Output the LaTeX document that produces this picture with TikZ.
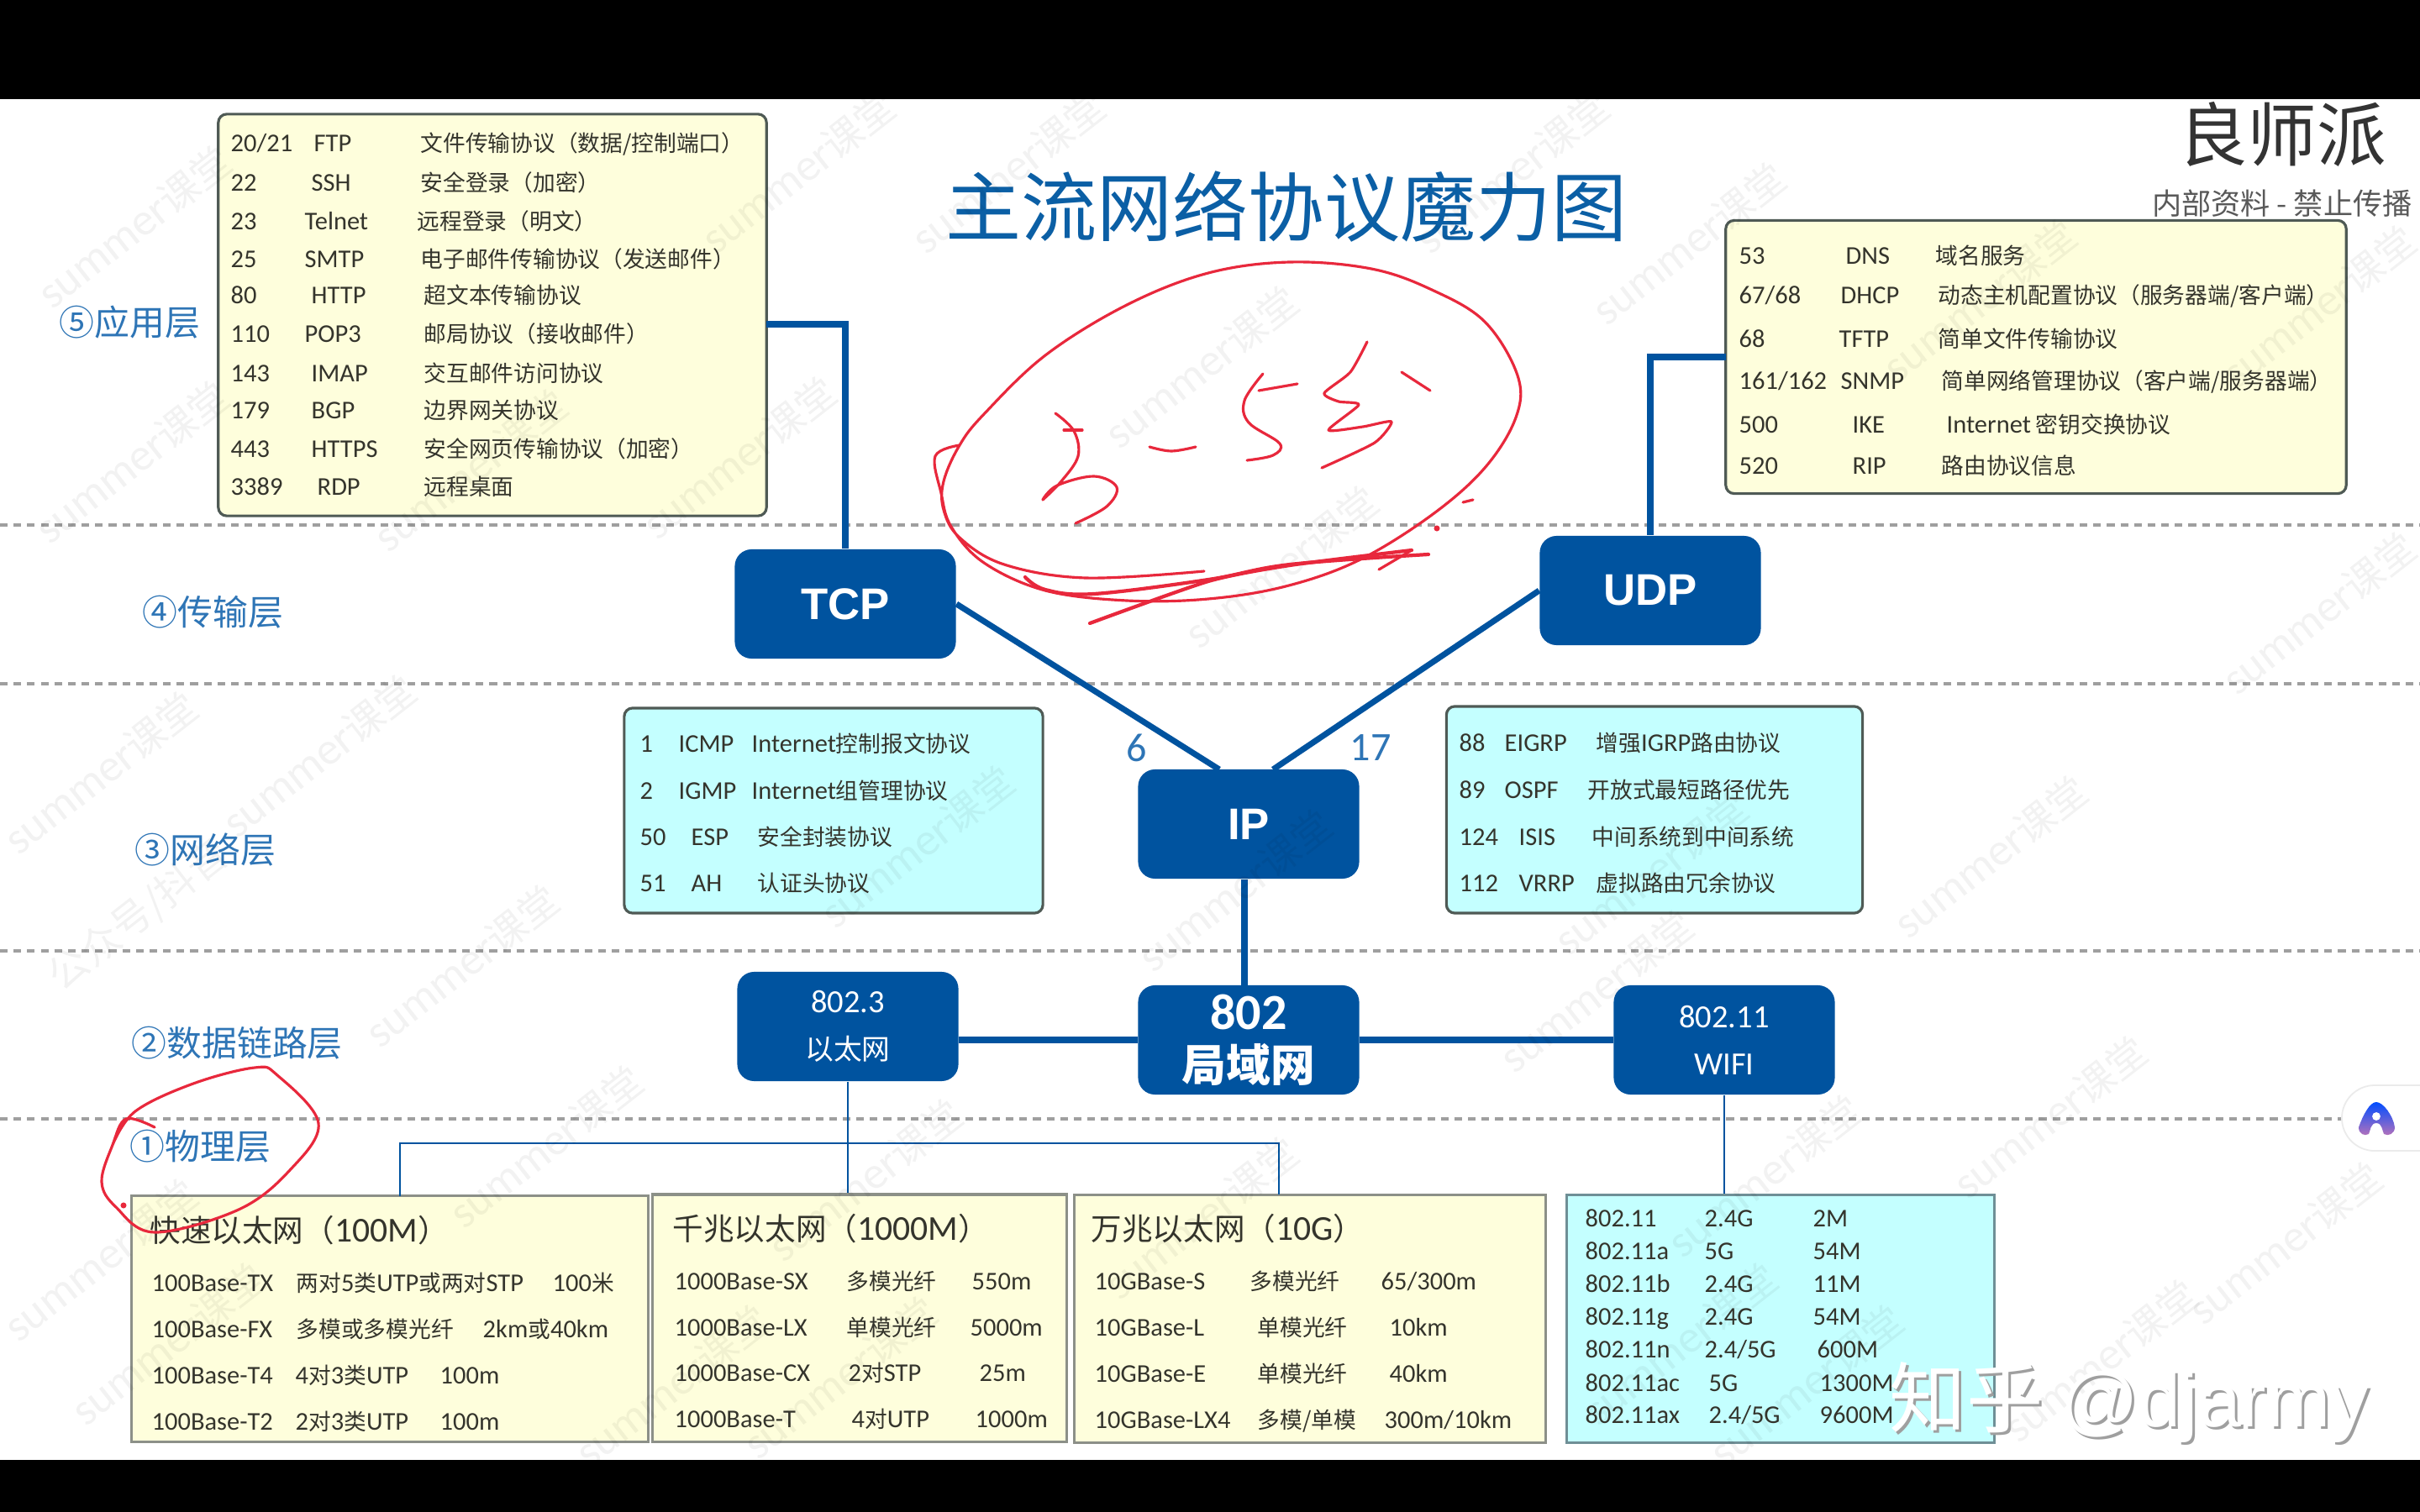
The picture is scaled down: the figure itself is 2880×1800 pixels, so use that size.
\documentclass[tikz,border=0pt]{standalone}
\usepackage{fontspec}
\setmainfont{Noto Sans CJK SC}
\newfontfamily\latin[Scale=1.14]{Carlito}
\newfontfamily\arialish{Liberation Sans}
\usetikzlibrary{arrows.meta}
\definecolor{netblue}{HTML}{00539F}
\definecolor{headblue}{HTML}{0B5FA5}
\definecolor{layerblue}{HTML}{2E75B6}
\definecolor{paleyellow}{HTML}{FEFEDC}
\definecolor{palecyan}{HTML}{C4FFFF}
\definecolor{boxedge}{HTML}{4F5A55}
\definecolor{flatedge}{HTML}{8C9088}
\definecolor{rateedge}{HTML}{6F8F96}
\definecolor{inkred}{HTML}{E8283C}
\definecolor{rowgray}{HTML}{34342C}
\tikzset{
	netbox/.style={fill=netblue, rounded corners=.2cm, minimum width=2.63cm, minimum height=1.3cm, inner sep=0, text=white, align=center},
	listbox/.style={draw=boxedge, line width=.9pt, rounded corners=.1cm, inner sep=0},
	flatbox/.style={draw=flatedge, line width=.9pt, fill=paleyellow, inner sep=0},
	rowtext/.style={anchor=west, inner sep=0, text=rowgray, text height=7pt, text depth=1.5pt, font=\fontsize{7.6}{9}\selectfont},
	headtext/.style={anchor=west, inner sep=0, text=rowgray, font=\fontsize{10.4}{12}\selectfont},
	layertext/.style={anchor=west, inner sep=0, text=layerblue, font=\fontsize{11.9}{14}\selectfont},
	thickwire/.style={netblue, line width=2pt},
	thinwire/.style={netblue, line width=.8pt},
	ink/.style={inkred, line width=.9pt, line cap=round, line join=round},
	mark text/.style={rotate=38, inner sep=0, text=black, opacity=.05, font=\fontsize{13.5}{15}\selectfont}
}
\begin{document}
\begin{tikzpicture}[x=0.01cm, y=-0.01cm]
	\useasboundingbox (0,0) rectangle (2880,1800);
	\fill[white] (0,0) rectangle (2880,1800);
	% layer separators
	\foreach \ly in {625,814,1132,1332} {\draw[gray!75, line width=1pt, dash pattern=on 2.6pt off 2pt] (0,\ly) -- (2880,\ly);}
	% heading
	\node[inner sep=0, text=headblue, font=\fontsize{25.6}{30}\selectfont] (heading) at (1531,246) {主流网络协议魔力图};
	\node[inner sep=0, text=black!80, font=\fontsize{23.5}{27}\selectfont] (brand) at (2716,160) {良师派};
	\node[inner sep=0, text=black!65, font=\fontsize{10}{12}\selectfont] (brandnote) at (2716,242) {内部资料 - 禁止传播};
	% layers
	\node[layertext] (layerfive) at (70,384) {⑤应用层};
	\node[layertext] (layerfour) at (169,729) {④传输层};
	\node[layertext] (layerthree) at (160,1012) {③网络层};
	\node[layertext] (layertwo) at (156,1242) {②数据链路层};
	\node[layertext] (layerone) at (154,1365) {①物理层};
	% list boxes
	\node[listbox, fill=paleyellow, minimum width=6.52cm, minimum height=4.78cm] (appbox) at (586,375) {};
	\node[listbox, fill=paleyellow, minimum width=7.38cm, minimum height=3.25cm] (udpbox) at (2423,425) {};
	\node[listbox, fill=palecyan, minimum width=4.98cm, minimum height=2.44cm] (ipleft) at (992,965) {};
	\node[listbox, fill=palecyan, minimum width=4.95cm, minimum height=2.46cm] (ipright) at (1969,964) {};
	\node[flatbox, minimum width=6.15cm, minimum height=2.93cm] (fast) at (464,1570) {};
	\node[flatbox, minimum width=4.92cm, minimum height=2.94cm] (gig) at (1023,1569) {};
	\node[flatbox, minimum width=5.6cm, minimum height=2.95cm] (ten) at (1559,1570) {};
	\node[flatbox, fill=palecyan, draw=rateedge, minimum width=5.08cm, minimum height=2.95cm] (rates) at (2119,1570) {};
	% protocol boxes
	\node[netbox, font=\arialish\bfseries\fontsize{15}{17}\selectfont] (tcp) at (1006,719) {TCP};
	\node[netbox, font=\arialish\bfseries\fontsize{15}{17}\selectfont] (udp) at (1964,703) {UDP};
	\node[netbox, font=\arialish\bfseries\fontsize{15}{17}\selectfont] (ip) at (1486,981) {IP};
	\node[netbox, font=\bfseries\fontsize{15}{17.5}\selectfont] (lan) at (1486,1238) {\latin 802\\局域网};
	\node[netbox, font=\fontsize{9.6}{16}\selectfont] (eth) at (1009,1222) {\latin 802.3\\以太网};
	\node[netbox, font=\fontsize{9.6}{16}\selectfont] (wifi) at (2052,1238) {\latin 802.11\\\latin WIFI};
	% wires
	\coordinate (appout) at (912,386);
	\coordinate (udpout) at (2054,425);
	\coordinate (ipinl) at (1451,916);
	\coordinate (ipinr) at (1515,916);
	\coordinate (ipout) at (1481,1047);
	\coordinate (lanin) at (1481,1173);
	\coordinate (fastin) at (476,1424);
	\coordinate (tenin) at (1522,1422);
	\coordinate (busin) at (1009,1361);
	\draw[thickwire] (appout) -| (tcp.north);
	\draw[thickwire] (udpout) -| (udp.north);
	\draw[thickwire] (tcp.east) -- (ipinl);
	\draw[thickwire] (udp.west) -- (ipinr);
	\draw[thickwire] (ipout) -- (lanin);
	\draw[thickwire] (lan.west) -- (lan.west -| eth.east);
	\draw[thickwire] (lan.east) -- (wifi.west);
	\draw[thinwire] (eth.south) -- (eth.south |- gig.north);
	\draw[thinwire] (fastin) |- (busin) -| (tenin);
	\draw[thinwire] (wifi.south) -- (wifi.south |- rates.north);
	\node[inner sep=0, text=layerblue, font=\latin\fontsize{12}{15}\selectfont] (six) at (1353,890) {6};
	\node[inner sep=0, text=layerblue, font=\latin\fontsize{12}{15}\selectfont] (seventeen) at (1631,890) {17};
	% application rows
	\foreach \py/\port/\nx/\name/\dx/\desc [count=\i] in {
		171/{20/21}/373/FTP/500/{文件传输协议（数据/控制端口）},
		218/22/370/SSH/500/{安全登录（加密）},
		264/23/362/Telnet/496/{远程登录（明文）},
		309/25/362/SMTP/500/{电子邮件传输协议（发送邮件）},
		352/80/370/HTTP/504/{超文本传输协议},
		398/110/362/POP3/504/{邮局协议（接收邮件）},
		445/143/370/IMAP/504/{交互邮件访问协议},
		489/179/370/BGP/504/{边界网关协议},
		535/443/370/HTTPS/504/{安全网页传输协议（加密）},
		580/3389/377/RDP/504/{远程桌面}} {
		\node[rowtext] (appport\i) at (274,\py) {\latin\port};
		\node[rowtext] (appname\i) at (\nx,\py) {\latin\name};
		\node[rowtext] (appdesc\i) at (\dx,\py) {\desc};
	}
	% udp rows
	\foreach \py/\port/\nx/\name/\dx/\desc [count=\i] in {
		305/53/2196/DNS/2303/{域名服务},
		352/{67/68}/2190/DHCP/2306/{动态主机配置协议（服务器端/客户端）},
		404/68/2188/TFTP/2306/{简单文件传输协议},
		454/{161/162}/2190/SNMP/2310/{简单网络管理协议（客户端/服务器端）},
		506/500/2204/IKE/2316/{{\latin Internet} 密钥交换协议},
		555/520/2204/RIP/2310/{路由协议信息}} {
		\node[rowtext] (udpport\i) at (2069,\py) {\latin\port};
		\node[rowtext] (udpname\i) at (\nx,\py) {\latin\name};
		\node[rowtext] (udpdesc\i) at (\dx,\py) {\desc};
	}
	% network rows
	\foreach \py/\port/\nx/\name/\dx/\desc [count=\i] in {
		886/1/807/ICMP/894/{{\latin Internet}控制报文协议},
		942/2/807/IGMP/894/{{\latin Internet}组管理协议},
		997/50/822/ESP/901/{安全封装协议},
		1052/51/822/AH/901/{认证头协议}} {
		\node[rowtext] (leftport\i) at (761,\py) {\latin\port};
		\node[rowtext] (leftname\i) at (\nx,\py) {\latin\name};
		\node[rowtext] (leftdesc\i) at (\dx,\py) {\desc};
	}
	\foreach \py/\port/\nx/\name/\dx/\desc [count=\i] in {
		885/88/1790/EIGRP/1899/{增强{\latin IGRP}路由协议},
		941/89/1790/OSPF/1889/{开放式最短路径优先},
		997/124/1807/ISIS/1894/{中间系统到中间系统},
		1052/112/1807/VRRP/1899/{虚拟路由冗余协议}} {
		\node[rowtext] (rightport\i) at (1736,\py) {\latin\port};
		\node[rowtext] (rightname\i) at (\nx,\py) {\latin\name};
		\node[rowtext] (rightdesc\i) at (\dx,\py) {\desc};
	}
	% ethernet tables
	\node[headtext] (fasthead) at (178,1465) {快速以太网（{\latin 100M}）};
	\node[headtext] (gighead) at (800,1463) {千兆以太网（{\latin 1000M}）};
	\node[headtext] (tenhead) at (1298,1463) {万兆以太网（{\latin 10G}）};
	\foreach \py/\kind/\mx/\medium/\lx/\reach [count=\i] in {
		1528/100Base-TX/352/{两对{\latin 5}类{\latin UTP}或两对{\latin STP}}/657/{{\latin 100}米},
		1583/100Base-FX/352/{多模或多模光纤}/574/{{\latin 2km}或{\latin 40km}},
		1638/100Base-T4/351/{{\latin 4}对{\latin 3}类{\latin UTP}}/523/{\latin 100m},
		1693/100Base-T2/351/{{\latin 2}对{\latin 3}类{\latin UTP}}/523/{\latin 100m},
		1526/1000Base-SX/1007/{多模光纤}/1156/{\latin 550m},
		1581/1000Base-LX/1007/{单模光纤}/1154/{\latin 5000m},
		1635/1000Base-CX/1009/{{\latin 2}对{\latin STP}}/1165/{\latin 25m},
		1690/1000Base-T/1013/{{\latin 4}对{\latin UTP}}/1160/{\latin 1000m},
		1526/10GBase-S/1487/{多模光纤}/1643/{\latin 65/300m},
		1581/10GBase-L/1496/{单模光纤}/1653/{\latin 10km},
		1636/10GBase-E/1496/{单模光纤}/1653/{\latin 40km},
		1691/10GBase-LX4/1496/{多模/单模}/1647/{\latin 300m/10km}} {
		\pgfmathsetmacro{\kx}{\i<5 ? 180 : (\i<9 ? 802 : 1302)}
		\node[rowtext] (ethkind\i) at (\kx,\py) {\latin\kind};
		\node[rowtext] (ethmedium\i) at (\mx,\py) {\medium};
		\node[rowtext] (ethreach\i) at (\lx,\py) {\reach};
	}
	% wifi rates
	\foreach \py/\std/\bx/\band/\sx/\speed [count=\i] in {
		1451/802.11/2028/2.4G/2157/2M,
		1490/802.11a/2028/5G/2157/54M,
		1529/802.11b/2028/2.4G/2157/11M,
		1568/802.11g/2028/2.4G/2157/54M,
		1607/802.11n/2028/{2.4/5G}/2162/600M,
		1647/802.11ac/2033/5G/2165/1300M,
		1685/802.11ax/2033/{2.4/5G}/2165/9600M} {
		\node[rowtext] (ratestd\i) at (1886,\py) {\latin\std};
		\node[rowtext] (rateband\i) at (\bx,\py) {\latin\band};
		\node[rowtext] (ratespeed\i) at (\sx,\py) {\latin\speed};
	}
	% summer marks across the slide
	\foreach \wx/\wy [count=\i] in {160/270,157/550,950/205,880/545,560/560,1200/205,1430/437,1525/675,1800/205,2010/290,2356/358,2760/365,
		1092/1008,1470/1060,1965/1040,2369/1020,120/920,380/900,550/1150,1900/1180,2440/1330,2760/730,650/1365,1030/1405,1430/1450,
		2100/1400,200/1600,800/1650,1000/1640,2000/1600,2150/1650,2720/1480,2500/1620,120/1500} {
		\node[mark text] (summer\i) at (\wx,\wy) {{\latin summer}课堂};
	}
	\node[mark text] (wechat) at (165,1090) {公众号/抖音};
	% pen marks
	\draw[ink] plot[smooth, tension=.6] coordinates {(1433,680) (1292,688) (1195,672) (1142,640) (1123,607) (1123,573) (1142,530) (1171,493) (1244,423) (1341,363) (1438,325) (1535,312) (1632,320) (1704,345) (1767,383) (1806,447) (1804,497) (1767,557) (1704,613) (1617,667) (1530,698) (1438,713) (1341,715) (1244,703) (1171,670) (1132,627) (1120,587) (1113,543) (1142,530)};
	\draw[ink, line width=1.2pt] plot[smooth, tension=.6] coordinates {(1220,687) (1244,702) (1302,707) (1438,690) (1535,672) (1700,660)};
	\draw[ink, line width=1.2pt] plot[smooth, tension=.4] coordinates {(1297,742) (1438,692) (1535,673) (1680,655)};
	\draw[ink] (1680,655) -- (1641,678);
	\draw[ink] plot[smooth, tension=.6] coordinates {(1256,492) (1278,513) (1283,543) (1263,573) (1241,595) (1258,578) (1302,567) (1329,580) (1317,603) (1280,623)};
	\draw[ink] (1266,512) -- (1288,512);
	\draw[ink] plot[smooth, tension=.6] coordinates {(1368,532) (1394,537) (1423,532)};
	\draw[ink] plot[smooth, tension=.6] coordinates {(1503,445) (1481,477) (1486,503) (1523,528) (1515,542) (1484,548)};
	\draw[ink] (1498,465) -- (1544,457);
	\draw[ink] plot[smooth, tension=.4] coordinates {(1627,407) (1607,443) (1576,468) (1593,478) (1617,482) (1581,512) (1622,508) (1656,502) (1636,527) (1573,557)};
	\draw[ink] (1668,443) -- (1702,465);
	\draw[ink] (1741,598) -- (1753,595);
	\fill[inkred] (1710,629) circle (1pt);
	\draw[ink] plot[smooth, tension=.6] coordinates {(184,1342) (150,1332) (134,1363) (121,1407) (138,1437) (184,1467) (284,1440) (345,1393) (379,1337) (330,1280) (303,1271) (230,1290) (161,1323) (134,1363)};
	\fill[inkred] (147,1435) circle (1pt);
	% video bands
	\fill[black] (0,0) rectangle (2880,118);
	\fill[black] (0,1738) rectangle (2880,1800);
	% overlay button
	\draw[black!8, fill=white, line width=.5pt] (2880,1292) -- (2826,1292) arc[start angle=90, end angle=270, radius=.39cm] -- (2880,1370);
	\shade[top color=blue!70!cyan, bottom color=violet!55!white, even odd rule] (2807,1342) .. controls (2812,1328) and (2820,1312) .. (2828,1312) .. controls (2836,1312) and (2848,1328) .. (2850,1342) .. controls (2850,1350) and (2842,1353) .. (2837,1350) .. controls (2835,1346) and (2835,1337) .. (2828,1337) .. controls (2821,1337) and (2821,1346) .. (2819,1350) .. controls (2814,1353) and (2807,1350) .. (2807,1342) -- cycle;
	\fill[white] (2828,1329) circle (1.4pt);
	% site stamp
	\node[anchor=west, inner sep=0, text=gray!75, font=\fontsize{26}{30}\selectfont] (stampshade) at (2251,1673) {知乎 {\arialish @djarmy}};
	\node[anchor=west, inner sep=0, text=white, font=\fontsize{26}{30}\selectfont] (stamp) at (2248,1670) {知乎 {\arialish @djarmy}};
\end{tikzpicture}
\end{document}
